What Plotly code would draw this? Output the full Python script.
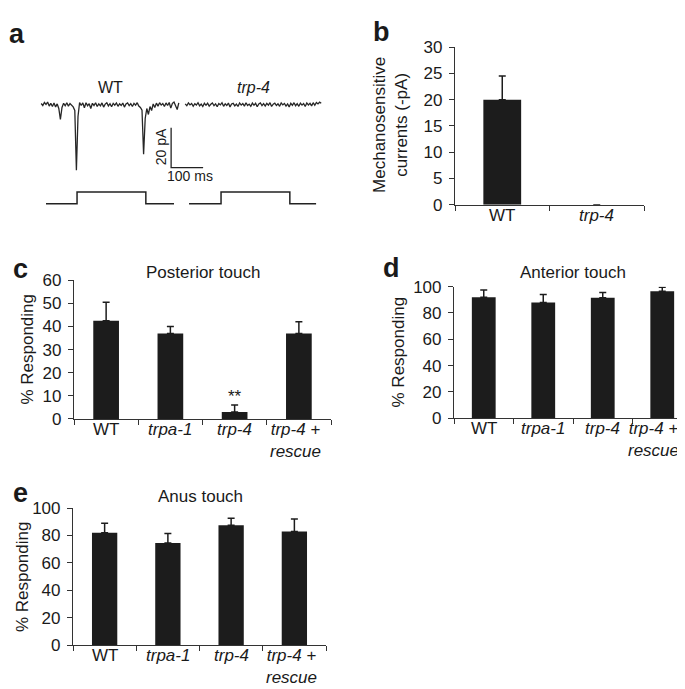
import plotly.graph_objects as go

W, H = 685, 689
FONT = "Liberation Sans, Arial, Helvetica, sans-serif"
INK = "#1c1c1c"
AX = "#333333"
TXT = "#1a1a1a"

# ---------------- Panel a data (ms, pA) ----------------
wt_time = [10, 15, 20, 25, 30, 35, 40, 45, 50, 55,
           60, 65, 70, 75, 80, 85, 90, 95, 100, 105,
           110, 115, 120, 125, 130, 135, 140, 145, 150, 155,
           160, 165, 170, 175, 180, 185, 190, 195, 200, 205,
           210, 215, 220, 225, 230, 235, 240, 245, 250, 255,
           260, 265, 270, 275, 280, 285, 290, 295, 300, 305,
           310, 315, 320, 325, 330, 335, 340, 345, 350, 355,
           360, 365, 370, 375, 380, 385, 390, 395, 400, 405,
           410, 415, 420, 425, 430, 435, 440]
wt_current = [0.5, -0.5, 1.0, 0.0, 1.2, -0.8, 0.6, -1.0, 0.8, -1.2,
              0.3, -2.0, -7.5, -1.5, 0.6, -0.6, 0.9, -0.8, 0.5, -0.4,
              -1.2, -3.0, -33.0, -6.0, 1.0, -0.5, 0.8, -1.6, 0.9, -0.6,
              0.4, -2.0, 0.6, -0.5, 0.9, -1.0, 0.3, -0.7, 0.8, -1.3,
              0.2, 0.9, -0.7, 0.4, -1.1, 0.6, -0.3, 0.8, -0.9, 0.4,
              -0.5, 0.7, -1.3, 0.3, 0.8, -0.6, 0.4, -1.0, 0.6, -0.3,
              0.9, -0.8, -1.5, -2.8, -25.0, -7.0, -2.0, -5.0, -1.0, -3.0,
              0.3, -1.5, 0.7, -0.8, 0.9, -0.3, 0.5, -1.0, 0.8, -0.5,
              1.0, -1.8, 0.6, 1.2, -0.4, -2.5, 0.8]

trp4_time = [460, 465, 470, 475, 480, 485, 490, 495, 500, 505,
             510, 515, 520, 525, 530, 535, 540, 545, 550, 555,
             560, 565, 570, 575, 580, 585, 590, 595, 600, 605,
             610, 615, 620, 625, 630, 635, 640, 645, 650, 655,
             660, 665, 670, 675, 680, 685, 690, 695, 700, 705,
             710, 715, 720, 725, 730, 735, 740, 745, 750, 755,
             760, 765, 770, 775, 780, 785, 790, 795, 800, 805,
             810, 815, 820, 825, 830, 835, 840, 845, 850, 855,
             860, 865, 870, 875, 880, 885]
trp4_current = [0.3, -0.6, 0.8, -0.2, 0.5, -0.9, 0.4, -0.3, 0.9, -0.7,
                0.2, -1.0, 0.6, -0.4, 0.7, -0.8, 0.1, 0.8, -0.6, 0.3,
                -1.1, 0.5, -0.2, 0.9, -0.9, 0.4, -0.5, 0.7, -1.2, 0.3,
                0.6, -0.7, 0.2, -1.0, 0.8, -0.3, 0.5, -0.8, 0.9, -0.5,
                0.2, -0.9, 0.7, -0.4, 0.6, -1.1, 0.3, 0.8, -0.6, 0.4,
                -0.8, 0.6, -0.3, 0.9, -1.0, 0.2, 0.7, -0.5, 0.4, -0.9,
                0.8, -0.2, 0.5, -0.8, 0.3, -1.2, 0.6, -0.4, 0.9, -0.6,
                0.4, -0.9, 0.7, -0.3, 0.5, -1.0, 0.8, -0.2, 0.6, -0.7,
                0.9, -0.4, 1.0, 0.3, 1.2, 0.6]

# stimulus protocol (drawn below traces, in the trace axis units)
wt_stim_time = [25, 122, 122, 337, 337, 425]
trp4_stim_time = [472, 572, 572, 787, 787, 869]
stim_level = [-49.8, -49.8, -43.9, -43.9, -49.8, -49.8]

# scale bar
scale_origin_ms = 416
scale_origin_pA = -31.7
scale_len_ms = 100
scale_len_pA = 20

# ---------------- Panel b ----------------
b_categories = ["WT", "trp-4"]
b_ticktext = ["WT", "<i>trp-4</i>"]
b_values = [20.0, 0.0]
b_errors = [4.5, 0.0]

# ---------------- Panels c, d, e ----------------
strains = ["WT", "trpa-1", "trp-4", "trp-4 + rescue"]
strain_ticktext = ["WT", "<i>trpa-1</i>", "<i>trp-4</i>", "<i>trp-4</i> +<br><i>rescue</i>"]

posterior_values = [42.5, 37.0, 3.0, 37.0]
posterior_errors = [8.0, 3.0, 3.0, 5.0]

anterior_values = [92.0, 88.0, 91.5, 96.5]
anterior_errors = [5.5, 6.0, 4.0, 3.0]

anus_values = [82.0, 74.5, 87.5, 83.0]
anus_errors = [7.0, 7.0, 5.0, 9.0]


def xd(p0, p1):
    return [p0 / W, p1 / W]


def yd(top, bottom):
    return [1 - bottom / H, 1 - top / H]


def px(x):
    return x / W


def py(y):
    return 1 - y / H


fig = go.Figure()

# Panel a traces
line_style = dict(color="#262626", width=1.3)
fig.add_trace(go.Scatter(x=wt_time, y=wt_current, mode="lines", line=line_style,
                         xaxis="x", yaxis="y", showlegend=False, hoverinfo="skip"))
fig.add_trace(go.Scatter(x=trp4_time, y=trp4_current, mode="lines", line=line_style,
                         xaxis="x", yaxis="y", showlegend=False, hoverinfo="skip"))
stim_style = dict(color="#222222", width=1.5)
fig.add_trace(go.Scatter(x=wt_stim_time, y=stim_level, mode="lines", line=stim_style,
                         xaxis="x", yaxis="y", showlegend=False, hoverinfo="skip"))
fig.add_trace(go.Scatter(x=trp4_stim_time, y=stim_level, mode="lines", line=stim_style,
                         xaxis="x", yaxis="y", showlegend=False, hoverinfo="skip"))
fig.add_trace(go.Scatter(
    x=[scale_origin_ms, scale_origin_ms, scale_origin_ms + scale_len_ms],
    y=[scale_origin_pA + scale_len_pA, scale_origin_pA, scale_origin_pA],
    mode="lines", line=dict(color="#222222", width=1.3),
    xaxis="x", yaxis="y", showlegend=False, hoverinfo="skip"))


def add_bars(cats, vals, errs, ax):
    fig.add_trace(go.Bar(
        x=cats, y=vals, xaxis="x" + ax, yaxis="y" + ax,
        marker=dict(color=INK, line=dict(width=0)),
        width=0.4,
        error_y=dict(type="data", array=errs, arrayminus=[0] * len(errs), symmetric=False,
                     color=INK, thickness=1.5, width=3.5),
        showlegend=False, hoverinfo="skip"))


add_bars(b_categories, b_values, [e if e > 0 else None for e in b_errors], "2")
add_bars(strains, posterior_values, posterior_errors, "3")
add_bars(strains, anterior_values, anterior_errors, "4")
add_bars(strains, anus_values, anus_errors, "5")

tickfont = dict(family=FONT, size=17, color=TXT)
axis_common = dict(showline=True, linecolor=AX, linewidth=1.2, ticks="outside",
                   ticklen=5, tickwidth=1.2, tickcolor=AX, showgrid=False,
                   zeroline=False, tickfont=tickfont, fixedrange=True)


def cat_x(domain, cats, anchor):
    return dict(domain=domain, anchor=anchor, type="category", categoryorder="array",
                categoryarray=cats, tickmode="array", tickvals=cats,
                showticklabels=False, range=[-0.5, len(cats) - 0.5],
                tickson="boundaries", **axis_common)


def val_y(domain, rng, dtick, anchor):
    return dict(domain=domain, anchor=anchor, range=rng, dtick=dtick, tick0=0,
                ticklabelstandoff=3, **axis_common)


fig.update_layout(
    width=W, height=H,
    margin=dict(l=0, r=0, t=0, b=0),
    paper_bgcolor="white", plot_bgcolor="rgba(0,0,0,0)",
    font=dict(family=FONT, color=TXT),
    xaxis=dict(domain=xd(30, 318), range=[0, 900], visible=False, fixedrange=True, anchor="y"),
    yaxis=dict(domain=yd(60, 200), range=[-53.66, 14.63], visible=False, fixedrange=True, anchor="x"),
    xaxis2=cat_x(xd(447, 636), b_categories, "y2"),
    yaxis2=val_y(yd(31, 193), [0, 30], 5, "x2"),
    xaxis3=cat_x(xd(66, 323), strains, "y3"),
    yaxis3=val_y(yd(270.7, 413.3), [0, 60], 10, "x3"),
    xaxis4=cat_x(xd(446, 684), strains, "y4"),
    yaxis4=val_y(yd(277.3, 412.7), [0, 100], 20, "x4"),
    xaxis5=cat_x(xd(65, 318), strains, "y5"),
    yaxis5=val_y(yd(505, 646), [0, 100], 20, "x5"),
)

ann = []


def text(x, y, s, size=17, bold=False, angle=0, xanchor="center"):
    if bold:
        s = "<b>" + s + "</b>"
    ann.append(dict(x=px(x), y=py(y), xref="paper", yref="paper", text=s,
                    showarrow=False, textangle=angle, xanchor=xanchor, yanchor="middle",
                    font=dict(family=FONT, size=size, color=TXT)))


# category labels under each bar axis
def cat_labels(cats, labels, ax, last_shift=-3):
    for i, (c, lab) in enumerate(zip(cats, labels)):
        shift = last_shift if (i == len(cats) - 1 and len(cats) > 2) else 0
        ann.append(dict(x=c, xref="x" + ax, y=0, yref="y" + ax + " domain",
                        text=lab, showarrow=False, yanchor="top", yshift=1,
                        xshift=shift, xanchor="center", align="center",
                        font=dict(family=FONT, size=17, color=TXT)))


cat_labels(b_categories, b_ticktext, "2")
cat_labels(strains, strain_ticktext, "3")
cat_labels(strains, strain_ticktext, "4", last_shift=-9)
cat_labels(strains, strain_ticktext, "5")

# panel letters
text(9, 17, "a", 27, bold=True)
text(373, 15, "b", 27, bold=True)
text(12, 259, "c", 27, bold=True)
text(383, 258, "d", 27, bold=True)
text(12, 489, "e", 27, bold=True)

# panel a labels
text(102, 73, "WT", 16)
text(245, 73, "<i>trp-4</i>", 16)
text(153, 134, "20 pA", 14, angle=-90)
text(182, 164, "100 ms", 14)

# titles
text(195, 263, "Posterior touch", 17)
text(565, 263, "Anterior touch", 17)
text(192, 493, "Anus touch", 17)

# y axis titles
text(383, 111, "Mechanosensitive<br>currents (-pA)", 17, angle=-90)
text(20, 342, "% Responding", 17, angle=-90)
text(390, 345, "% Responding", 17, angle=-90)
text(14, 576, "% Responding", 17, angle=-90)

fig.update_layout(annotations=ann)

# significance marker above trp-4 in panel c
fig.add_annotation(x="trp-4", y=posterior_values[2] + posterior_errors[2], xref="x3", yref="y3",
                   text="**", showarrow=False, yanchor="bottom", yshift=-3,
                   font=dict(family=FONT, size=17, color=TXT))

fig.write_html("out.html")
